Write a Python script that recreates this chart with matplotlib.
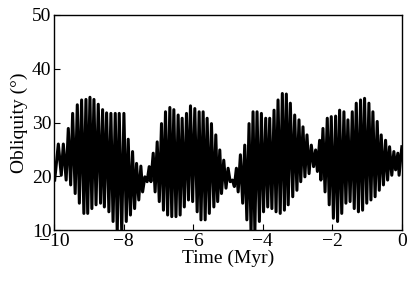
import numpy as np
import matplotlib
matplotlib.use("Agg")
import matplotlib.pyplot as plt

plt.rcParams['font.family'] = ['Liberation Serif', 'DejaVu Serif']
plt.rcParams['mathtext.fontset'] = 'stix'

# Peak (local maximum) times (Myr) and obliquity values (deg)
peak_times = [-9.885, -9.741, -9.598, -9.473, -9.339, -9.215, -9.090, -8.975, -8.860, -8.736,
              -8.611, -8.496, -8.372, -8.247, -8.132, -7.998, -7.874, -7.749, -7.634, -7.510,
              -7.395, -7.270, -7.155, -7.040, -6.916, -6.801, -6.676, -6.561, -6.437, -6.322,
              -6.197, -6.082, -5.958, -5.833, -5.718, -5.603, -5.479, -5.354, -5.239, -5.125,
              -5.000, -4.875, -4.761, -4.646, -4.521, -4.397, -4.282, -4.167, -4.042, -3.918,
              -3.803, -3.678, -3.563, -3.439, -3.324, -3.209, -3.084, -2.960, -2.845, -2.730,
              -2.605, -2.481, -2.366, -2.270, -2.146, -2.031, -1.906, -1.791, -1.667, -1.552,
              -1.427, -1.312, -1.188, -1.073, -0.948, -0.833, -0.709, -0.594, -0.469, -0.354,
              -0.230, -0.115, 0.0]
peak_values = [26.0, 26.0, 28.9, 31.7, 33.3, 34.2, 34.3, 34.7, 34.3, 33.4,
               32.4, 31.8, 31.7, 31.7, 31.7, 31.7, 26.9, 24.6, 22.4, 21.9,
               19.9, 21.8, 24.3, 26.4, 29.8, 32.0, 32.8, 32.4, 31.4, 30.8,
               31.7, 33.1, 32.6, 32.0, 32.0, 30.8, 29.8, 27.7, 24.9, 23.0,
               21.5, 19.3, 21.5, 24.0, 25.8, 29.8, 32.0, 32.0, 31.7, 30.8,
               30.8, 32.3, 34.2, 35.4, 35.3, 33.6, 31.4, 30.5, 29.2, 27.7,
               25.8, 24.9, 26.7, 28.9, 30.8, 31.1, 31.2, 32.3, 32.0, 30.5,
               32.0, 33.6, 34.2, 34.5, 33.6, 32.0, 30.2, 27.7, 26.7, 25.5,
               24.6, 24.3, 25.5]

# Trough (local minimum) times (Myr) and obliquity values (deg)
trough_times = [-9.99, -9.80, -9.66, -9.53, -9.40, -9.28, -9.15, -9.04, -8.92, -8.80,
                -8.67, -8.56, -8.43, -8.31, -8.19, -8.06, -7.93, -7.81, -7.69, -7.57,
                -7.46, -7.33, -7.22, -7.10, -6.98, -6.86, -6.74, -6.62, -6.50, -6.38,
                -6.26, -6.14, -6.02, -5.89, -5.78, -5.66, -5.54, -5.41, -5.30, -5.19,
                -5.06, -4.94, -4.82, -4.71, -4.58, -4.46, -4.34, -4.23, -4.10, -3.98,
                -3.86, -3.74, -3.62, -3.50, -3.38, -3.27, -3.14, -3.02, -2.91, -2.79,
                -2.67, -2.54, -2.43, -2.33, -2.21, -2.09, -1.97, -1.85, -1.73, -1.61,
                -1.49, -1.37, -1.25, -1.13, -1.01, -0.89, -0.77, -0.65, -0.53, -0.41,
                -0.29, -0.18, -0.08]
trough_values = [19.3, 20.2, 19.3, 18.4, 16.8, 15.0, 13.1, 13.1, 14.0, 14.7,
                 15.0, 14.3, 13.4, 11.6, 9.5, 9.5, 11.6, 12.8, 14.0, 15.6,
                 17.1, 19.0, 19.0, 17.1, 15.3, 13.7, 12.8, 12.5, 12.5, 12.8,
                 14.3, 15.6, 15.3, 13.4, 11.9, 11.9, 13.1, 14.3, 15.3, 16.8,
                 17.8, 19.0, 18.1, 17.1, 15.0, 11.9, 9.5, 9.5, 11.6, 13.4,
                 14.3, 14.0, 13.4, 13.1, 13.7, 14.7, 16.2, 17.4, 19.0, 19.9,
                 20.5, 21.8, 20.9, 19.3, 17.1, 14.7, 12.2, 11.6, 13.1, 15.0,
                 15.3, 14.0, 13.4, 13.7, 15.0, 15.6, 16.2, 17.4, 18.4, 19.3,
                 20.2, 21.2, 20.2]

x_ticks = [-10, -8, -6, -4, -2, 0]
y_ticks = [10, 20, 30, 40, 50]

t = np.ravel(np.column_stack([trough_times, peak_times]))
obl = np.ravel(np.column_stack([trough_values, peak_values]))

fig = plt.figure(figsize=(4.16, 2.83), dpi=100)
ax = fig.add_axes([0.1306, 0.187, 0.8354, 0.760])
ax.plot(t, obl, color='black', lw=2.2, solid_joinstyle='round')
ax.set_xlim(-10, 0)
ax.set_ylim(10, 50)
ax.set_xticks(x_ticks)
ax.set_yticks(y_ticks)
ax.set_xticklabels([f"\u2212{abs(v)}" if v < 0 else str(v) for v in x_ticks])
ax.tick_params(direction='in', labelsize=14, length=4, width=0.8, pad=2)
ax.set_xlabel("Time (Myr)", fontsize=14, labelpad=0)
ax.set_ylabel("Obliquity (°)", fontsize=14, labelpad=3)
for s in ax.spines.values():
    s.set_linewidth(1.0)
fig.savefig("out.png", dpi=100)
